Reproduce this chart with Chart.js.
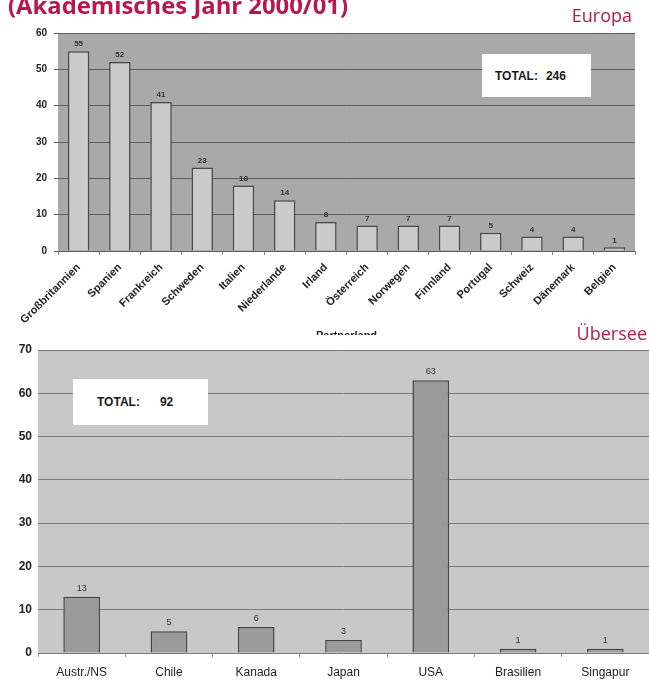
<!DOCTYPE html>
<html><head><meta charset="utf-8">
<script src="https://cdn.jsdelivr.net/npm/chart.js@4.4.0/dist/chart.umd.min.js"></script>
<style>
html,body{margin:0;padding:0;background:#fff;width:649px;height:692px;overflow:hidden;position:relative;}
.abs{position:absolute;white-space:pre;}
#title{left:8px;top:-10px;font-family:"Open Sans",sans-serif;font-weight:700;font-size:24px;line-height:30px;color:#b8174e;transform-origin:0 0;z-index:5}
#europa{right:17px;top:5px;font-family:"Open Sans",sans-serif;font-size:18px;line-height:20px;color:#b8174e;z-index:5}
#uebersee{right:2px;top:323px;font-family:"Open Sans",sans-serif;font-size:18px;line-height:20px;color:#b8174e;z-index:5}
#wrap1{left:0;top:20px;width:649px;height:315px;overflow:hidden;z-index:1}
#wrap2{left:0;top:335px;width:649px;height:357px;overflow:hidden;background:#fff;z-index:2}
.box{background:#fff;font-family:"Liberation Sans",Arial,sans-serif;font-weight:700;color:#1a1a1a;z-index:4;display:flex;align-items:center}
#box1{left:482px;top:54px;width:109px;height:43px;font-size:12px}
#box2{left:73px;top:379px;width:135px;height:46px;font-size:12px}
</style></head>
<body>
<div id="title" class="abs">(Akademisches Jahr 2000/01)</div>
<div id="europa" class="abs">Europa</div>
<div id="uebersee" class="abs">Übersee</div>
<div id="wrap1" class="abs"><canvas id="c1" width="649" height="327"></canvas></div>
<div id="wrap2" class="abs"><canvas id="c2" width="649" height="357"></canvas></div>
<div id="box1" class="abs box"><span style="margin-left:13px">TOTAL:</span><span id="t1" style="margin-left:8px"></span></div>
<div id="box2" class="abs box"><span style="margin-left:24px">TOTAL:</span><span id="t2" style="margin-left:20px"></span></div>
<script>
const europaLabels = ['Großbritannien','Spanien','Frankreich','Schweden','Italien','Niederlande','Irland','Österreich','Norwegen','Finnland','Portugal','Schweiz','Dänemark','Belgien'];
const europaValues = [55,52,41,23,18,14,8,7,7,7,5,4,4,1];
const europaTicks = [0,10,20,30,40,50,60];
const ueberseeLabels = ['Austr./NS','Chile','Kanada','Japan','USA','Brasilien','Singapur'];
const ueberseeValues = [13,5,6,3,63,1,1];
const ueberseeTicks = [0,10,20,30,40,50,60,70];

document.getElementById('t1').textContent = europaValues.reduce((a,b)=>a+b,0);
document.getElementById('t2').textContent = ueberseeValues.reduce((a,b)=>a+b,0);

const tEl = document.getElementById('title');
const tw = tEl.getBoundingClientRect().width;
tEl.style.transform = 'scaleX(' + (340/tw) + ')';

const FAM = '"Liberation Sans", Arial, sans-serif';

const areaBg = { id:'areaBg', beforeDraw(chart, args, opts){
  const {ctx, chartArea:a} = chart; ctx.save(); ctx.fillStyle = opts.color;
  ctx.fillRect(a.left, a.top, a.right-a.left, a.bottom-a.top); ctx.restore(); } };
const valueLabels = { id:'valueLabels', afterDatasetsDraw(chart, args, opts){
  const ctx = chart.ctx; const meta = chart.getDatasetMeta(0); const d = chart.data.datasets[0].data;
  ctx.save(); ctx.font = opts.font; ctx.fillStyle = opts.color; ctx.textAlign='center'; ctx.textBaseline='bottom';
  meta.data.forEach((bar,i)=>{ ctx.fillText(String(d[i]), bar.x, bar.y - opts.offset); });
  ctx.restore(); } };

new Chart(document.getElementById('c1'), {
  type:'bar',
  data:{ labels:europaLabels, datasets:[{ data:europaValues, backgroundColor:'#cbcbcb', borderColor:'#4a4a4a', borderWidth:1.5, barPercentage:0.52, categoryPercentage:1 }]},
  options:{ responsive:false, animation:false, devicePixelRatio:1,
    layout:{ padding:{ left:0, right:14, top:12, bottom:0 } },
    plugins:{ legend:{display:false}, tooltip:{enabled:false},
      areaBg:{ color:'#a9a9a9' },
      valueLabels:{ font:'bold 8px '+FAM, color:'#333', offset:3 } },
    scales:{
      x:{ grid:{ display:true, drawOnChartArea:false, offset:true, tickLength:4, color:'#888' },
          border:{ display:false },
          ticks:{ minRotation:45, maxRotation:45, autoSkip:false, padding:6, color:'#222', font:{ family:FAM, size:11, weight:'bold' } },
          title:{ display:true, text:'Partnerland', color:'#222', font:{ family:FAM, size:11, weight:'bold' }, padding:{top:4,bottom:4} },
          afterFit(s){ s.height = 96; } },
      y:{ min:0, max:60,
          afterBuildTicks(s){ s.ticks = europaTicks.map(v=>({value:v})); },
          ticks:{ padding:7, color:'#222', font:{ family:FAM, size:10, weight:'bold' } },
          grid:{ color:'#5e5e5e', tickLength:4 },
          border:{ display:false },
          afterFit(s){ s.width = 58; } }
    }
  },
  plugins:[areaBg, valueLabels]
});

new Chart(document.getElementById('c2'), {
  type:'bar',
  data:{ labels:ueberseeLabels, datasets:[{ data:ueberseeValues, backgroundColor:'#9b9b9b', borderColor:'#454545', borderWidth:1.5, barPercentage:0.42, categoryPercentage:1 }]},
  options:{ responsive:false, animation:false, devicePixelRatio:1,
    layout:{ padding:{ left:0, right:0, top:15, bottom:0 } },
    plugins:{ legend:{display:false}, tooltip:{enabled:false},
      areaBg:{ color:'#c8c8c8' },
      valueLabels:{ font:'9px '+FAM, color:'#333', offset:4 } },
    scales:{
      x:{ grid:{ display:true, drawOnChartArea:false, offset:true, tickLength:4, color:'#999' },
          border:{ display:false },
          ticks:{ maxRotation:0, autoSkip:false, padding:8, color:'#222', font:{ family:FAM, size:12 } },
          afterFit(s){ s.height = 39; } },
      y:{ min:0, max:70,
          afterBuildTicks(s){ s.ticks = ueberseeTicks.map(v=>({value:v})); },
          ticks:{ padding:6, color:'#222', font:{ family:FAM, size:12, weight:'bold' } },
          grid:{ color:'#7c7c7c', drawTicks:false },
          border:{ display:false },
          afterFit(s){ s.width = 38; } }
    }
  },
  plugins:[areaBg, valueLabels]
});
</script>
</body></html>
